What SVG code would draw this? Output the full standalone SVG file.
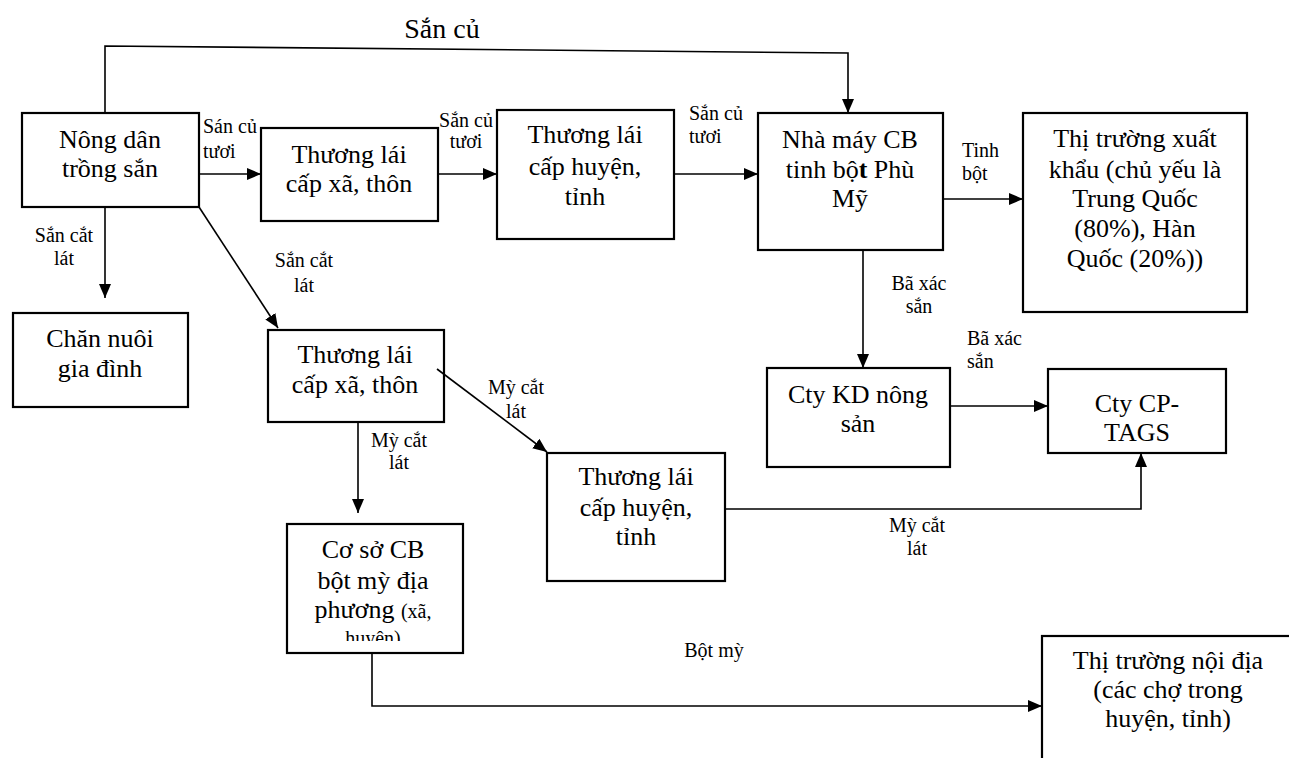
<svg xmlns="http://www.w3.org/2000/svg" width="1289" height="758" viewBox="0 0 1289 758" font-family="'Liberation Serif', Tinos, 'Times New Roman', 'DejaVu Serif', serif">
<defs>
<style>
.box{fill:#fff;stroke:#000;stroke-width:2.2}
.t{font-family:'Liberation Serif', Tinos, 'Times New Roman', serif;font-size:26px;fill:#000;text-anchor:middle}
.l{font-family:'Liberation Serif', Tinos, 'Times New Roman', serif;font-size:20px;fill:#000;text-anchor:middle}
.ls{text-anchor:start}
.c{fill:none;stroke:#000;stroke-width:1.6}
</style>
<marker id="ah" viewBox="0 0 14 12" refX="14" refY="6" markerWidth="14" markerHeight="12" markerUnits="userSpaceOnUse" orient="auto">
<path d="M0,0 L14,6 L0,12 Z" fill="#000"/>
</marker>
<clipPath id="clip11"><rect x="287" y="524" width="176" height="117"/></clipPath>
</defs>
<rect width="1289" height="758" fill="#fff"/>

<g id="n1">
<rect class="box" x="22" y="113" width="177" height="94"/>
<text class="t" x="110" y="148">Nông dân</text>
<text class="t" x="110" y="177">trồng sắn</text>
</g>
<g id="n2">
<rect class="box" x="261" y="128" width="177" height="93"/>
<text class="t" x="349" y="163">Thương lái</text>
<text class="t" x="349" y="192">cấp xã, thôn</text>
</g>
<g id="n3">
<rect class="box" x="497" y="110" width="177" height="129"/>
<text class="t" x="585" y="143">Thương lái</text>
<text class="t" x="585" y="175">cấp huyện,</text>
<text class="t" x="585" y="205">tỉnh</text>
</g>
<g id="n4">
<rect class="box" x="758" y="113" width="185" height="137"/>
<text class="t" x="850" y="148">Nhà máy CB</text>
<text class="t" x="850" y="178">tinh bộ<tspan font-weight="bold">t</tspan> Phù</text>
<text class="t" x="850" y="207">Mỹ</text>
</g>
<g id="n5">
<rect class="box" x="1023" y="113" width="224" height="199"/>
<text class="t" x="1135" y="147">Thị trường xuất</text>
<text class="t" x="1135" y="178">khẩu (chủ yếu là</text>
<text class="t" x="1135" y="207">Trung Quốc</text>
<text class="t" x="1135" y="237">(80%), Hàn</text>
<text class="t" x="1135" y="267">Quốc (20%))</text>
</g>
<g id="n6">
<rect class="box" x="13" y="313" width="175" height="94"/>
<text class="t" x="100" y="347">Chăn nuôi</text>
<text class="t" x="100" y="377">gia đình</text>
</g>
<g id="n7">
<rect class="box" x="268" y="330" width="176" height="92"/>
<text class="t" x="355" y="363">Thương lái</text>
<text class="t" x="355" y="393">cấp xã, thôn</text>
</g>
<g id="n8">
<rect class="box" x="767" y="368" width="183" height="99"/>
<text class="t" x="858" y="403">Cty KD nông</text>
<text class="t" x="858" y="432">sản</text>
</g>
<g id="n9">
<rect class="box" x="1048" y="369" width="178" height="84"/>
<text class="t" x="1137" y="412">Cty CP-</text>
<text class="t" x="1137" y="441">TAGS</text>
</g>
<g id="n10">
<rect class="box" x="547" y="453" width="178" height="128"/>
<text class="t" x="636" y="485">Thương lái</text>
<text class="t" x="636" y="516">cấp huyện,</text>
<text class="t" x="636" y="545">tỉnh</text>
</g>
<g id="n11">
<rect class="box" x="287" y="524" width="176" height="129"/>
<text class="t" x="373" y="558">Cơ sở CB</text>
<text class="t" x="373" y="589">bột mỳ địa</text>
<text class="t" x="373" y="618">phương <tspan style="font-size:20px">(xã,</tspan></text>
<g clip-path="url(#clip11)"><text class="l" x="373" y="645">huyện)</text></g>
</g>
<g id="n12">
<rect class="box" x="1042" y="636" width="254" height="140"/>
<text class="t" x="1168" y="669">Thị trường nội địa</text>
<text class="t" x="1168" y="698">(các chợ trong</text>
<text class="t" x="1168" y="727">huyện, tỉnh)</text>
</g>

<g id="connectors">
<polyline class="c" points="105,113 105,46 848,53 848,113" marker-end="url(#ah)"/>
<line class="c" x1="199" y1="174" x2="261" y2="174" marker-end="url(#ah)"/>
<line class="c" x1="438" y1="174" x2="497" y2="174" marker-end="url(#ah)"/>
<line class="c" x1="674" y1="174" x2="758" y2="174" marker-end="url(#ah)"/>
<line class="c" x1="943" y1="199" x2="1023" y2="199" marker-end="url(#ah)"/>
<line class="c" x1="105" y1="207" x2="105" y2="298" marker-end="url(#ah)"/>
<line class="c" x1="199" y1="207" x2="278" y2="328" marker-end="url(#ah)"/>
<line class="c" x1="863" y1="250" x2="863" y2="368" marker-end="url(#ah)"/>
<line class="c" x1="950" y1="406" x2="1048" y2="406" marker-end="url(#ah)"/>
<line class="c" x1="437" y1="369" x2="547" y2="452" marker-end="url(#ah)"/>
<line class="c" x1="358" y1="422" x2="358" y2="513" marker-end="url(#ah)"/>
<polyline class="c" points="725,509 1141,509 1141,453" marker-end="url(#ah)"/>
<polyline class="c" points="372,653 372,706 1042,706" marker-end="url(#ah)"/>

<text class="l" x="442" y="38" style="font-size:28px">Sắn củ</text>
<text class="l ls" x="203" y="133">Sán củ</text>
<text class="l ls" x="203" y="158">tươi</text>
<text class="l" x="466" y="127">Sắn củ</text>
<text class="l" x="466" y="148">tươi</text>
<text class="l ls" x="689" y="120">Sắn củ</text>
<text class="l ls" x="689" y="143">tươi</text>
<text class="l ls" x="962" y="157">Tinh</text>
<text class="l ls" x="962" y="180">bột</text>
<text class="l" x="64" y="242">Sắn cắt</text>
<text class="l" x="64" y="265">lát</text>
<text class="l" x="304" y="267">Sắn cắt</text>
<text class="l" x="304" y="292">lát</text>
<text class="l" x="919" y="290">Bã xác</text>
<text class="l" x="919" y="313">sắn</text>
<text class="l ls" x="967" y="345">Bã xác</text>
<text class="l ls" x="967" y="368">sắn</text>
<text class="l" x="516" y="394">Mỳ cắt</text>
<text class="l" x="516" y="418">lát</text>
<text class="l" x="399" y="447">Mỳ cắt</text>
<text class="l" x="399" y="469">lát</text>
<text class="l" x="917" y="532">Mỳ cắt</text>
<text class="l" x="917" y="555">lát</text>
<text class="l" x="714" y="657">Bột mỳ</text>
</g>
</svg>
